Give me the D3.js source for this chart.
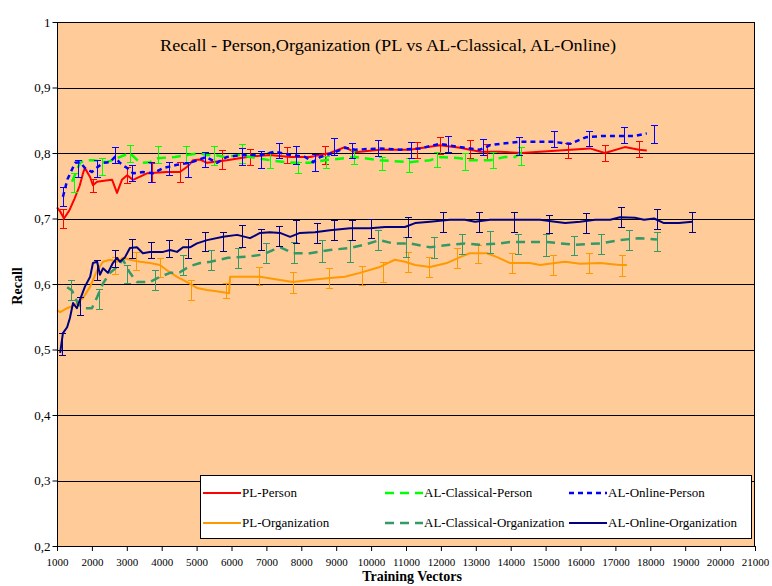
<!DOCTYPE html>
<html><head><meta charset="utf-8">
<script src="https://cdn.jsdelivr.net/npm/d3@7"></script>
<style>
body{margin:0;background:#fff}
svg{display:block}
svg text{font-family:"Liberation Serif","Times New Roman","DejaVu Serif",serif !important;fill:#000}
</style>
</head><body>
<svg id="chart" width="772" height="586" font-family="Liberation Serif, serif"></svg>
<script>
// ---------------- DATA ----------------
const title = "Recall - Person,Organization (PL vs AL-Classical, AL-Online)";
const xTickValues = [1000,2000,3000,4000,5000,6000,7000,8000,9000,10000,11000,12000,13000,14000,15000,16000,17000,18000,19000,20000,21000];
const yTickValues = [0.2,0.3,0.4,0.5,0.6,0.7,0.8,0.9,1];
const yTickLabels = ["0,2","0,3","0,4","0,5","0,6","0,7","0,8","0,9","1"];
const seriesNames = ["PL-Person","AL-Classical-Person","AL-Online-Person","PL-Organization","AL-Classical-Organization","AL-Online-Organization"];

// [training vectors, recall]
const plPerson = [[1000,0.717],[1100,0.71],[1200,0.70],[1350,0.712],[1500,0.73],[1650,0.75],[1750,0.77],[1800,0.777],[1950,0.763],[2030,0.751],[2150,0.756],[2400,0.758],[2580,0.759],[2720,0.739],[2860,0.759],[3010,0.766],[3180,0.759],[3580,0.769],[4150,0.771],[4520,0.771],[4730,0.779],[4900,0.789],[5100,0.79],[5300,0.785],[5870,0.789],[6450,0.794],[7100,0.797],[7680,0.794],[8250,0.794],[8820,0.80],[9250,0.809],[9540,0.801],[10250,0.805],[11100,0.805],[11970,0.812],[12550,0.808],[13120,0.802],[13690,0.802],[14300,0.80],[14840,0.802],[16270,0.807],[16700,0.80],[17270,0.809],[17680,0.805],[17900,0.804]];
const alClassicalPerson = [[1430,0.756],[1660,0.785],[1800,0.789],[2030,0.789],[2430,0.786],[3090,0.80],[3380,0.785],[3660,0.786],[3890,0.792],[4380,0.794],[4730,0.797],[5100,0.80],[5270,0.797],[5530,0.797],[5810,0.794],[6240,0.797],[6530,0.794],[7100,0.789],[7530,0.786],[7880,0.785],[8250,0.785],[8680,0.789],[9250,0.792],[9540,0.794],[10250,0.789],[11110,0.786],[11690,0.789],[11970,0.794],[12550,0.792],[12830,0.789],[13410,0.789],[13840,0.794],[14120,0.794],[14300,0.80]];
const alOnlinePerson = [[1170,0.733],[1300,0.76],[1520,0.785],[1660,0.786],[1800,0.777],[2000,0.771],[2175,0.779],[2320,0.785],[2520,0.786],[2660,0.794],[2800,0.785],[3010,0.777],[3180,0.769],[3460,0.771],[3750,0.769],[4040,0.777],[4440,0.782],[4810,0.785],[5180,0.792],[5270,0.794],[5580,0.785],[5870,0.794],[6330,0.797],[6820,0.797],[7250,0.802],[7680,0.797],[8110,0.794],[8340,0.786],[8540,0.794],[8910,0.80],[9250,0.808],[9540,0.805],[10250,0.807],[10830,0.805],[11400,0.807],[11970,0.814],[12550,0.809],[13120,0.805],[13410,0.812],[13840,0.815],[14270,0.817],[15210,0.817],[15700,0.814],[16150,0.824],[16640,0.826],[17560,0.826],[17900,0.83]];
const plOrganization = [[1000,0.56],[1090,0.557],[1290,0.563],[1520,0.568],[1750,0.579],[1950,0.596],[2150,0.621],[2320,0.634],[2520,0.637],[2720,0.634],[2890,0.64],[3090,0.637],[3380,0.634],[3670,0.632],[3950,0.629],[4150,0.621],[4440,0.611],[4730,0.603],[5010,0.594],[5300,0.591],[5670,0.588],[5930,0.586],[5960,0.611],[6240,0.611],[6820,0.611],[7390,0.606],[7760,0.603],[8250,0.606],[8820,0.609],[9250,0.611],[9680,0.617],[10250,0.626],[10680,0.637],[10970,0.634],[11260,0.629],[11690,0.626],[12170,0.632],[12550,0.641],[12830,0.647],[13320,0.647],[13610,0.641],[13980,0.632],[14550,0.632],[14840,0.629],[15270,0.632],[15560,0.634],[15990,0.631],[16560,0.632],[17130,0.629],[17330,0.629]];
const alClassicalOrganization = [[1290,0.595],[1430,0.59],[1600,0.57],[1750,0.563],[2000,0.563],[2150,0.58],[2320,0.601],[2520,0.617],[2720,0.626],[2890,0.637],[3090,0.617],[3290,0.603],[3660,0.603],[3950,0.611],[4240,0.617],[4520,0.618],[4800,0.627],[5100,0.632],[5400,0.634],[5900,0.64],[6500,0.642],[6900,0.645],[7200,0.652],[7400,0.656],[7760,0.647],[8250,0.647],[8820,0.652],[9400,0.655],[9820,0.66],[10250,0.667],[10630,0.662],[11110,0.662],[11690,0.656],[12260,0.66],[12690,0.662],[13120,0.66],[13690,0.662],[13980,0.664],[14400,0.664],[15040,0.664],[15840,0.66],[16560,0.662],[17130,0.667],[17680,0.67],[18190,0.668]];
const alOnlineOrganization = [[1090,0.495],[1170,0.525],[1290,0.534],[1370,0.548],[1460,0.571],[1570,0.563],[1660,0.576],[1800,0.596],[1950,0.611],[2030,0.632],[2150,0.634],[2230,0.614],[2320,0.624],[2460,0.617],[2600,0.632],[2720,0.64],[2800,0.634],[2950,0.641],[3090,0.655],[3290,0.656],[3460,0.647],[3660,0.649],[3860,0.649],[4040,0.649],[4240,0.652],[4440,0.649],[4610,0.656],[4810,0.656],[5010,0.662],[5300,0.667],[5760,0.672],[6160,0.675],[6530,0.67],[6820,0.678],[7100,0.679],[7390,0.678],[7680,0.672],[7960,0.678],[8390,0.679],[8820,0.682],[9400,0.685],[9970,0.685],[10400,0.687],[10970,0.687],[11260,0.693],[11690,0.695],[12260,0.698],[12690,0.698],[12980,0.695],[13410,0.698],[13980,0.698],[14410,0.698],[14840,0.698],[15270,0.695],[15560,0.693],[15990,0.695],[16420,0.698],[16850,0.698],[17130,0.702],[17560,0.701],[17820,0.698],[18110,0.70],[18390,0.693],[18820,0.693],[19200,0.695]];

// error bars: [training vectors, recall, +/- error]
const plPersonErr = [[1170,0.70,0.014],[2030,0.751,0.010],[3010,0.766,0.012],[3720,0.770,0.015],[4520,0.771,0.015],[5730,0.790,0.015],[6530,0.794,0.012],[7590,0.797,0.012],[8680,0.797,0.014],[11310,0.805,0.012],[11970,0.812,0.013],[12830,0.806,0.014],[13320,0.802,0.012],[15640,0.804,0.012],[16700,0.800,0.012],[17680,0.806,0.012]];
const alClassicalPersonErr = [[1500,0.755,0.0145],[2300,0.779,0.013],[3100,0.799,0.013],[3900,0.797,0.013],[4700,0.797,0.013],[5500,0.796,0.014],[6300,0.799,0.014],[7100,0.789,0.012],[7900,0.778,0.009],[8700,0.786,0.009],[9500,0.794,0.011],[10300,0.784,0.010],[11100,0.782,0.011],[11900,0.790,0.012],[12700,0.787,0.013],[13500,0.789,0.012],[14300,0.795,0.014]];
const alOnlinePersonErr = [[1170,0.733,0.0145],[1600,0.776,0.013],[2150,0.776,0.013],[2650,0.797,0.012],[3150,0.770,0.012],[3700,0.771,0.015],[4200,0.776,0.010],[4750,0.775,0.012],[5250,0.790,0.012],[6300,0.795,0.013],[6850,0.790,0.013],[7350,0.804,0.012],[7850,0.797,0.014],[8400,0.785,0.013],[8950,0.810,0.013],[9450,0.804,0.012],[10200,0.808,0.012],[11150,0.805,0.012],[12200,0.814,0.012],[13200,0.809,0.012],[14250,0.811,0.014],[15250,0.821,0.012],[16250,0.822,0.012],[17250,0.828,0.012],[18100,0.829,0.013]];
const plOrganizationErr = [[2650,0.628,0.013],[3250,0.635,0.014],[3950,0.625,0.015],[4850,0.591,0.015],[5850,0.590,0.011],[6800,0.612,0.014],[7750,0.602,0.016],[8800,0.609,0.015],[9750,0.613,0.015],[10350,0.618,0.015],[11050,0.634,0.015],[11650,0.626,0.015],[12450,0.640,0.015],[13050,0.646,0.014],[14050,0.632,0.015],[15200,0.629,0.015],[16250,0.632,0.015],[17200,0.628,0.016]];
const alClassicalOrganizationErr = [[1400,0.591,0.015],[2200,0.577,0.015],[3000,0.615,0.014],[3800,0.606,0.015],[4600,0.629,0.015],[5400,0.637,0.015],[6200,0.640,0.015],[7000,0.647,0.015],[7800,0.648,0.016],[8600,0.650,0.017],[9400,0.650,0.017],[10200,0.667,0.015],[11000,0.656,0.015],[11800,0.655,0.016],[12600,0.661,0.015],[13400,0.664,0.017],[14200,0.661,0.015],[15000,0.660,0.017],[15800,0.659,0.015],[16600,0.661,0.015],[17400,0.667,0.015],[18200,0.665,0.015]];
const alOnlineOrganizationErr = [[1150,0.508,0.017],[1650,0.566,0.014],[2150,0.621,0.015],[2650,0.639,0.013],[3150,0.654,0.015],[3700,0.652,0.012],[4200,0.654,0.013],[4750,0.654,0.015],[5250,0.665,0.015],[5750,0.665,0.015],[6300,0.673,0.017],[6850,0.668,0.016],[7350,0.673,0.015],[7850,0.680,0.017],[8450,0.678,0.015],[8950,0.682,0.015],[9450,0.682,0.015],[10000,0.685,0.015],[11050,0.687,0.015],[12050,0.695,0.015],[13100,0.695,0.015],[14100,0.695,0.015],[15100,0.692,0.014],[16150,0.693,0.015],[17150,0.702,0.015],[18200,0.699,0.015],[19200,0.695,0.015]];

// ---------------- CHART ----------------
const FONT = "'Liberation Serif','Times New Roman','DejaVu Serif',serif";
const svg = d3.select("#chart");
const M = {left:57, right:755, top:22, bottom:546};
const x = d3.scaleLinear().domain([1000,21000]).range([M.left, M.right]);
const y = d3.scaleLinear().domain([0.2,1]).range([M.bottom, M.top]);

svg.append("rect").attr("x",0).attr("y",0).attr("width",772).attr("height",586).attr("fill","#fff");
svg.append("rect").attr("x",M.left).attr("y",M.top).attr("width",M.right-M.left).attr("height",M.bottom-M.top)
  .attr("fill","#FFCC99");

// gridlines
svg.append("g").selectAll("line").data(yTickValues.slice(1,-1)).join("line")
  .attr("x1",M.left).attr("x2",M.right).attr("y1",d=>Math.round(y(d))+0.5).attr("y2",d=>Math.round(y(d))+0.5)
  .attr("stroke","#000").attr("stroke-width",1).attr("shape-rendering","crispEdges");

// series
const styles = [
  {data:plPerson, err:plPersonErr, color:"#FF0000", dash:null, w:2},
  {data:plOrganization, err:plOrganizationErr, color:"#FF9900", dash:null, w:2},
  {data:alClassicalPerson, err:alClassicalPersonErr, color:"#00FF00", dash:"9,6", w:2.5},
  {data:alClassicalOrganization, err:alClassicalOrganizationErr, color:"#339966", dash:"9,6", w:2.5},
  {data:alOnlinePerson, err:alOnlinePersonErr, color:"#0000FF", dash:"5,4", w:2.5},
  {data:alOnlineOrganization, err:alOnlineOrganizationErr, color:"#000080", dash:null, w:2}
];
const line = d3.line().x(d=>x(d[0])).y(d=>y(d[1]));
styles.forEach(s=>{
  const g = svg.append("g");
  g.append("path").attr("d",line(s.data)).attr("fill","none").attr("stroke",s.color)
    .attr("stroke-width",s.w).attr("stroke-dasharray",s.dash).attr("stroke-linejoin","round");
  const eb = g.selectAll("g.eb").data(s.err).join("g").attr("stroke",s.color).attr("stroke-width",1)
    .attr("shape-rendering","crispEdges");
  eb.append("line").attr("x1",d=>Math.round(x(d[0]))+0.5).attr("x2",d=>Math.round(x(d[0]))+0.5)
    .attr("y1",d=>y(d[1]+d[2])).attr("y2",d=>y(d[1]-d[2]));
  eb.append("line").attr("x1",d=>Math.round(x(d[0]))-3).attr("x2",d=>Math.round(x(d[0]))+4)
    .attr("y1",d=>Math.round(y(d[1]+d[2]))+0.5).attr("y2",d=>Math.round(y(d[1]+d[2]))+0.5);
  eb.append("line").attr("x1",d=>Math.round(x(d[0]))-3).attr("x2",d=>Math.round(x(d[0]))+4)
    .attr("y1",d=>Math.round(y(d[1]-d[2]))+0.5).attr("y2",d=>Math.round(y(d[1]-d[2]))+0.5);
});

// plot border
svg.append("rect").attr("x",M.left+0.5).attr("y",M.top+0.5).attr("width",M.right-M.left-1).attr("height",M.bottom-M.top)
  .attr("fill","none").attr("stroke","#000").attr("stroke-width",1).attr("shape-rendering","crispEdges");

// axes
const yAxis = d3.axisLeft(y).tickValues(yTickValues).tickSize(5).tickFormat((d,i)=>yTickLabels[i]);
const gy = svg.append("g").attr("transform",`translate(${M.left+0.5},0)`).call(yAxis).attr("font-family",FONT);
gy.select(".domain").remove();
gy.selectAll("text").attr("font-family",FONT).style("font-size","13px").attr("x",-7);
const xAxis = d3.axisBottom(x).tickValues(xTickValues).tickSize(5).tickFormat(d3.format("d"));
const gx = svg.append("g").attr("transform",`translate(0,${M.bottom})`).call(xAxis).attr("font-family",FONT);
gx.select(".domain").attr("d",`M${M.left},0.5H${M.right}`);
gx.selectAll("text").attr("font-family",FONT).style("font-size","11px").attr("y",12);
svg.selectAll(".tick line").attr("stroke","#000");

// title & axis titles
svg.append("text").attr("x",388).attr("y",51).attr("text-anchor","middle").attr("font-family",FONT)
  .attr("textLength",456).attr("lengthAdjust","spacingAndGlyphs")
  .style("font-size","17px").text(title);
svg.append("text").attr("x",412).attr("y",581).attr("text-anchor","middle").attr("font-family",FONT)
  .style("font-size","14px").style("font-weight","bold").text("Training Vectors");
svg.append("text").attr("transform","translate(22,286) rotate(-90)").attr("text-anchor","middle").attr("font-family",FONT)
  .style("font-size","14px").style("font-weight","bold").text("Recall");

// legend
const lg = svg.append("g");
lg.append("rect").attr("x",200.5).attr("y",475.5).attr("width",551).attr("height",63)
  .attr("fill","#fff").attr("stroke","#000").attr("shape-rendering","crispEdges");
const legendOrder = [
  {name:seriesNames[0], s:styles[0], cx:203, cy:493},
  {name:seriesNames[1], s:styles[2], cx:385, cy:493},
  {name:seriesNames[2], s:styles[4], cx:569, cy:493},
  {name:seriesNames[3], s:styles[1], cx:203, cy:523},
  {name:seriesNames[4], s:styles[3], cx:385, cy:523},
  {name:seriesNames[5], s:styles[5], cx:569, cy:523}
];
legendOrder.forEach(l=>{
  lg.append("line").attr("x1",l.cx).attr("x2",l.cx+38).attr("y1",l.cy).attr("y2",l.cy)
    .attr("stroke",l.s.color).attr("stroke-width",l.s.w).attr("stroke-dasharray",l.s.dash);
  lg.append("text").attr("x",l.cx+39).attr("y",l.cy+4).attr("font-family",FONT).style("font-size","13px").text(l.name);
});
</script>
</body></html>
